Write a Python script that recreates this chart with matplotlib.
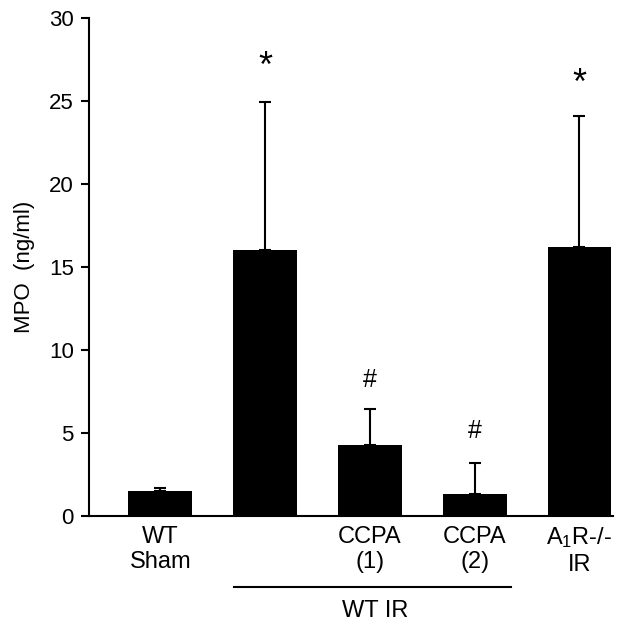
import matplotlib
matplotlib.use('Agg')
import matplotlib.pyplot as plt
import numpy as np

plt.rcParams['font.family'] = ['Liberation Sans', 'DejaVu Sans']
plt.rcParams['mathtext.fontset'] = 'custom'
plt.rcParams['mathtext.rm'] = 'Liberation Sans'
plt.rcParams['mathtext.it'] = 'Liberation Sans'

labels = ['WT\nSham', '', 'CCPA\n(1)', 'CCPA\n(2)', r'A$\mathregular{_1}$R-/-' + '\nIR']
mpo = [1.52, 16.05, 4.28, 1.3, 16.2]
sem = [0.15, 8.9, 2.15, 1.9, 7.9]
marks = ['', '*', '#', '#', '*']
mark_y = [0, 27.0, 8.2, 5.1, 26.0]

fig = plt.figure(figsize=(6.23, 6.26), dpi=100)
ax = fig.add_axes([0.143, 0.176, 0.841, 0.795])

x = np.arange(len(mpo))
ax.bar(x, mpo, width=0.61, color='black')
ax.errorbar(x, mpo, yerr=[np.zeros(len(sem)), sem], fmt='none', ecolor='black',
            elinewidth=1.5, capsize=4, capthick=1.5)

for i, m in enumerate(marks):
    if m == '*':
        ax.text(x[i], mark_y[i], m, ha='center', va='center', fontsize=26)
    elif m:
        ax.text(x[i], mark_y[i], m, ha='center', va='center', fontsize=18)

ax.set_xlim(-0.68, 4.32)
ax.set_ylim(0, 30)
ax.set_yticks(np.arange(0, 31, 5))
ax.set_xticks(x)
ax.set_xticklabels(labels, fontsize=17, linespacing=1.2)
ax.tick_params(axis='x', length=0, pad=7)
ax.tick_params(axis='y', direction='out', length=6, width=1.5, labelsize=16, pad=5)
ax.spines['top'].set_visible(False)
ax.spines['right'].set_visible(False)
ax.spines['left'].set_linewidth(1.5)
ax.spines['bottom'].set_linewidth(1.5)
ax.set_ylabel('MPO  (ng/ml)', fontsize=16, labelpad=10)

# WT IR group bracket
ax.plot([0.7, 3.35], [-4.3, -4.3], color='black', lw=1.5, clip_on=False)
ax.text(2.05, -5.1, 'WT IR', ha='center', va='top', fontsize=17)

fig.savefig('out.png', dpi=100)
